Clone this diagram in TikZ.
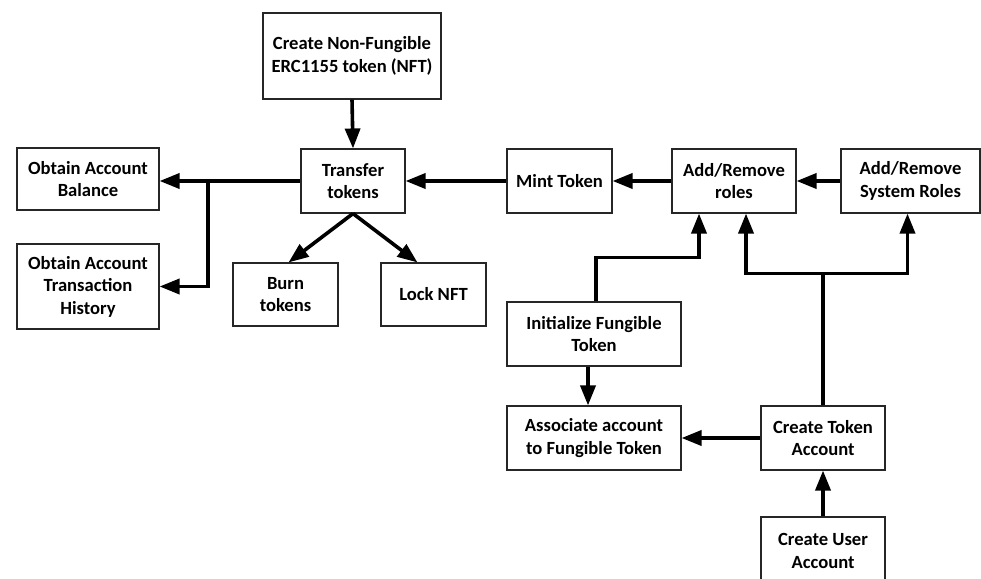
\documentclass[tikz,border=0pt]{standalone}
\usepackage{fontspec}
\setmainfont{Carlito}
\usetikzlibrary{arrows.meta,calc}
\begin{document}
\begin{tikzpicture}[x=1pt,y=-1pt,
  box/.style={draw=black!85, line width=1.1pt, inner sep=0pt, align=center,
    font=\fontsize{18.6}{22.5}\selectfont\bfseries},
  arr/.style={line width=3.6pt, -{Triangle[length=20pt,width=15pt]}}]
\useasboundingbox (0,0) rectangle (981,578);
\begin{scope}
\clip (0,0) rectangle (981,578);
\node[box, minimum width=178pt, minimum height=86pt] (nft) at (352,56) {Create Non-Fungible\\ERC1155 token (NFT)};
\node[box, minimum width=104pt, minimum height=64pt] (transfer) at (353,181) {Transfer\\tokens};
\node[box, minimum width=142pt, minimum height=62pt] (balance) at (88,179) {Obtain Account\\Balance};
\node[box, minimum width=142pt, minimum height=85pt] (history) at (88,286.5) {Obtain Account\\Transaction\\History};
\node[box, minimum width=105pt, minimum height=63pt] (burn) at (285.5,294.5) {Burn\\tokens};
\node[box, minimum width=105pt, minimum height=63pt] (lock) at (433.5,294.5) {Lock NFT};
\node[box, minimum width=105pt, minimum height=64pt] (mint) at (559.5,181) {Mint Token};
\node[box, minimum width=124pt, minimum height=64pt] (roles) at (734,181) {Add/Remove\\roles};
\node[box, minimum width=139pt, minimum height=64pt] (system) at (910.5,181) {Add/Remove\\System Roles};
\node[box, minimum width=174pt, minimum height=64pt] (init) at (594,334) {Initialize Fungible\\Token};
\node[box, minimum width=174pt, minimum height=64pt] (assoc) at (594,438) {Associate account\\to Fungible Token};
\node[box, minimum width=124pt, minimum height=64pt] (cta) at (823,438) {Create Token\\Account};
\node[box, minimum width=124pt, minimum height=68pt] (user) at (823,551) {Create User\\Account};
\end{scope}

\coordinate (j1) at (208,181);
\coordinate (r1) at ($(roles.south)+(-35,0)$);
\coordinate (r2) at ($(roles.south)+(12,0)$);
\coordinate (s1) at ($(system.south)+(-3,0)$);
\coordinate (burntip) at ($(burn.north)+(3,0)$);
\coordinate (locktip) at ($(lock.north)+(-16,0)$);

\draw[arr] (nft.south) -- (transfer.north);
\draw[arr] (transfer.west) -- (balance.east |- transfer.west);
\draw[arr] (j1) |- (history.east);
\draw[arr] (transfer.south) -- (burntip);
\draw[arr] (transfer.south) -- (locktip);
\draw[arr] (mint.west) -- (transfer.east);
\draw[arr] (roles.west) -- (mint.east);
\draw[arr] (system.west) -- (roles.east);
\draw[arr] ($(init.north)+(2,0)$) -- ++(0,-44) -| (r1);
\draw[arr] (cta.north) -- ++(0,-132) -| (r2);
\draw[arr] ($(cta.north)+(0,-132)$) -| (s1);
\draw[arr] ($(init.south)+(-6,0)$) -- ($(assoc.north)+(-6,0)$);
\draw[arr] (cta.west) -- (assoc.east);
\draw[arr] (user.north) -- (cta.south);
\end{tikzpicture}
\end{document}
